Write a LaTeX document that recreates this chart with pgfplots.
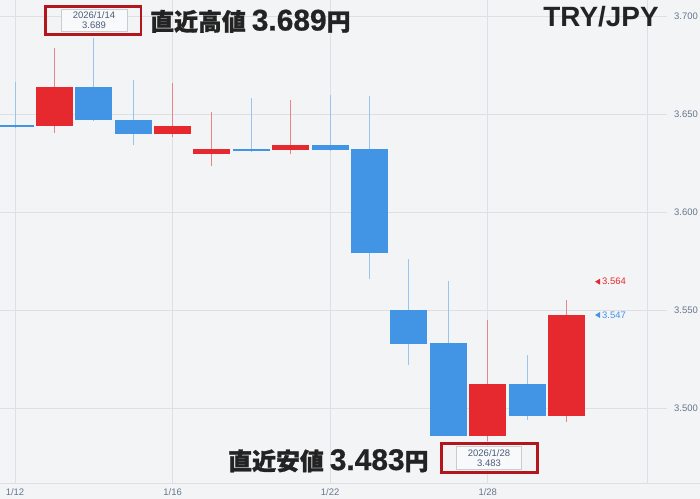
\documentclass[border=0pt]{standalone}
\usepackage{fontspec}
\setmainfont{Liberation Sans}
\newfontfamily\cjk{Noto Sans CJK JP}[BoldFeatures={FakeBold=1.2}]
\newfontfamily\latb{Liberation Sans}[BoldFeatures={FakeBold=0.6}]
\usepackage{pgfplots}
\usepackage{pgfplotstable}
\pgfplotsset{compat=1.18}

\definecolor{bg}{HTML}{F3F4F6}
\definecolor{gridc}{HTML}{DDDFE3}
\definecolor{upred}{HTML}{E5292E}
\definecolor{dnblue}{HTML}{4295E5}
\definecolor{tickc}{HTML}{66768C}
\definecolor{boxred}{HTML}{B3161D}
\definecolor{lblc}{HTML}{4A5C78}
\definecolor{ink}{HTML}{232323}
\colorlet{upwick}{upred!55!bg}
\colorlet{dnwick}{dnblue!50!bg}

% trading days: 0 = 1/12 ... 14 = 1/30 (weekends skipped)
\pgfplotstableread{
i  o      h      l      c
1  3.6439 3.6835 3.6405 3.6639
4  3.6398 3.6658 3.6385 3.6439
5  3.6296 3.6512 3.6236 3.6320
7  3.6316 3.6570 3.6296 3.6342
12 3.4859 3.5449 3.4830 3.5121
14 3.4961 3.5551 3.4930 3.5472
}\upcandles

\pgfplotstableread{
i  o      h      l      c
0  3.6442 3.6663 3.6430 3.6436
2  3.6639 3.6890 3.6465 3.6469
3  3.6469 3.6673 3.6342 3.6398
6  3.6322 3.6580 3.6308 3.6313
8  3.6342 3.6597 3.6310 3.6316
9  3.6320 3.6592 3.5658 3.5789
10 3.5500 3.5759 3.5219 3.5327
11 3.5330 3.5650 3.4857 3.4859
13 3.5121 3.5270 3.4939 3.4961
}\dncandles

\newcommand{\cjkb}[1]{{\cjk\bfseries\fontsize{24}{24}\selectfont #1}}
\newcommand{\numb}[1]{{\latb\bfseries\fontsize{30}{30}\selectfont #1}}

\pgfplotsset{candle/.style={only marks, mark=*, mark size=0pt,
  mark options={draw=none, fill=none}, forget plot,
  error bars/.cd, y dir=plus, y explicit, error mark=none}}

\begin{document}
\begin{tikzpicture}
\fill[bg] (0,0) rectangle (700bp,499bp);
\begin{axis}[
  at={(0,16bp)}, anchor=south west,
  width=647.7bp, height=483bp, scale only axis,
  xmin=-0.381, xmax=16.06,
  ymin=3.46173, ymax=3.70816,
  axis line style={draw=none},
  clip=false,
  xtick={0,4,8,12},
  xticklabels={1/12,1/16,1/22,1/28},
  ytick={3.5,3.55,3.6,3.65,3.7},
  xmajorgrids, ymajorgrids,
  major grid style={gridc, line width=0.9bp},
  xtick pos=bottom, ytick pos=right,
  yticklabel pos=right,
  tick style={draw=none},
  ticklabel style={font=\fontsize{9.5}{10}\selectfont, text=tickc, inner sep=0pt},
  yticklabel style={anchor=west, xshift=26.3bp,
    /pgf/number format/.cd, fixed, fixed zerofill, precision=3, assume math mode=true},
  xticklabel style={anchor=center, yshift=-8.7bp},
]
% wicks
\addplot[candle, error bar style={line width=1bp, draw=upwick}]
  table[x=i, y=l, y error plus expr=\thisrow{h}-\thisrow{l}] {\upcandles};
\addplot[candle, error bar style={line width=1bp, draw=dnwick}]
  table[x=i, y=l, y error plus expr=\thisrow{h}-\thisrow{l}] {\dncandles};
% bodies
\addplot[candle, error bar style={line width=37bp, draw=upred}]
  table[x=i, y=o, y error plus expr=\thisrow{c}-\thisrow{o}] {\upcandles};
\addplot[candle, error bar style={line width=37bp, draw=dnblue}]
  table[x=i, y=c, y error plus expr=\thisrow{o}-\thisrow{c}] {\dncandles};
\end{axis}

% frame lines and tick extensions
\draw[gridc, line width=0.9bp] (0,16bp) -- (700bp,16bp);
\draw[gridc, line width=0.9bp] (647.7bp,16bp) -- (647.7bp,499bp);
\foreach \py in {16,114,212,310,408}
  \draw[gridc, line width=0.9bp] (647.7bp,{499bp-\py bp}) -- (667bp,{499bp-\py bp});

% current price markers
\fill[upred] (595bp,217.3bp) -- (600bp,220.3bp) -- (600bp,214.3bp) -- cycle;
\node[anchor=west, inner sep=0pt, text=upred, font=\fontsize{9.5}{10}\selectfont] at (602bp,217.3bp) {3.564};
\fill[dnblue] (595bp,184bp) -- (600bp,187bp) -- (600bp,181bp) -- cycle;
\node[anchor=west, inner sep=0pt, text=dnblue, font=\fontsize{9.5}{10}\selectfont] at (602bp,184bp) {3.547};

% high annotation
\draw[gridc!80!gray, fill=white!45!bg, line width=0.6bp] (61bp,467.5bp) rectangle (127bp,490bp);
\node[align=center, inner sep=0pt, text=lblc, font=\fontsize{9.5}{10}\selectfont] at (94bp,479bp) {2026/1/14\\3.689};
\draw[boxred, line width=2.6bp] (45.7bp,464.7bp) rectangle (141bp,492.3bp);
\node[anchor=base west, inner sep=0pt, text=ink] at (150bp,468.5bp) {\cjkb{直近高値}\hspace{6bp}\numb{3.689}\cjkb{円}};

% low annotation
\draw[gridc!80!gray, fill=white!45!bg, line width=0.6bp] (456bp,29.7bp) rectangle (521.7bp,53bp);
\node[align=center, inner sep=0pt, text=lblc, font=\fontsize{9.5}{10}\selectfont] at (489bp,40.7bp) {2026/1/28\\3.483};
\draw[boxred, line width=2.6bp] (441.7bp,26.7bp) rectangle (537.3bp,55.7bp);
\node[anchor=base west, inner sep=0pt, text=ink] at (228bp,29bp) {\cjkb{直近安値}\hspace{6bp}\numb{3.483}\cjkb{円}};

% pair name
\node[anchor=base, inner sep=0pt, text=ink, font=\fontsize{28}{28}\selectfont\bfseries] at (601bp,472.3bp) {TRY/JPY};

\pgfresetboundingbox
\path[use as bounding box] (0,0) rectangle (700bp,499bp);
\end{tikzpicture}
\end{document}
